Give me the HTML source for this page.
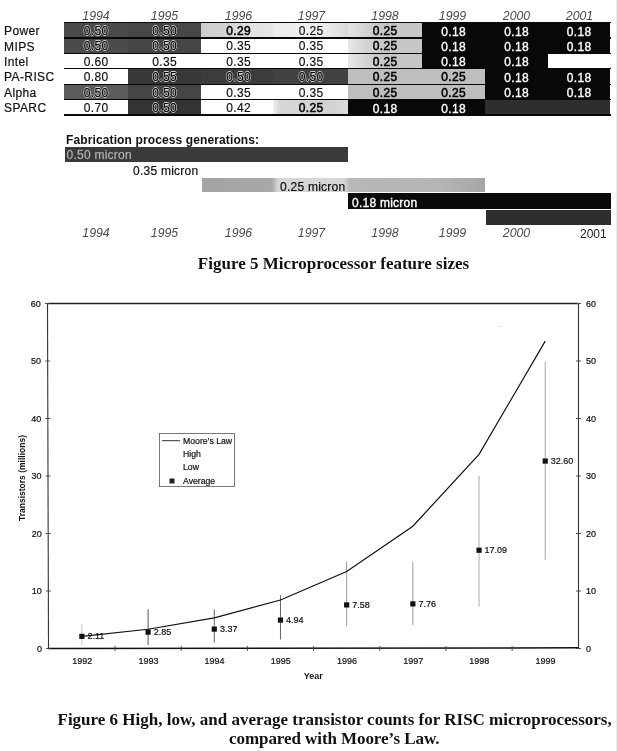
<!DOCTYPE html>
<html><head><meta charset="utf-8"><style>
html,body{margin:0;padding:0;background:#fff;}
body{width:617px;height:751px;position:relative;overflow:hidden;filter:grayscale(1);font-family:"Liberation Sans",sans-serif;color:#111;}
.a{position:absolute;white-space:nowrap;}
.yr{font-style:italic;font-size:12.3px;color:#4a4a4a;}
.lab{font-size:12px;color:#111;-webkit-text-stroke:0.2px #111;}
.c{position:absolute;}
.t{position:absolute;font-size:12px;text-align:center;line-height:15px;letter-spacing:0.35px;text-indent:0.35px;-webkit-text-stroke:0.15px #000;}
.dk{color:#000;text-shadow:0.8px 0 0 #ccc,-0.8px 0 0 #ccc,0 0.8px 0 #ccc,0 -0.8px 0 #ccc;}
.lt{-webkit-text-stroke:0.5px #000;color:#000;}
.wt{color:#fff;-webkit-text-stroke:0.35px #fff;}
.hl{position:absolute;height:1.3px;background:#080808;}
.cap{font-family:"Liberation Serif",serif;font-weight:bold;color:#111;}
.ax{font-size:9px;color:#111;-webkit-text-stroke:0.2px #111;}
</style></head><body>

<div class="a yr" style="left:76.0px;width:40px;text-align:center;top:8.8px;">1994</div>
<div class="a yr" style="left:144.5px;width:40px;text-align:center;top:8.8px;">1995</div>
<div class="a yr" style="left:218.5px;width:40px;text-align:center;top:8.8px;">1996</div>
<div class="a yr" style="left:291.5px;width:40px;text-align:center;top:8.8px;">1997</div>
<div class="a yr" style="left:365.0px;width:40px;text-align:center;top:8.8px;">1998</div>
<div class="a yr" style="left:432.5px;width:40px;text-align:center;top:8.8px;">1999</div>
<div class="a yr" style="left:496.5px;width:40px;text-align:center;top:8.8px;">2000</div>
<div class="a yr" style="left:559.5px;width:40px;text-align:center;top:8.8px;">2001</div>
<div class="a lab" style="left:4px;top:24.1px;letter-spacing:0.4px;">Power</div>
<div class="a lab" style="left:4px;top:39.5px;letter-spacing:0.4px;">MIPS</div>
<div class="a lab" style="left:4px;top:54.9px;letter-spacing:0.4px;">Intel</div>
<div class="a lab" style="left:4px;top:70.3px;letter-spacing:0.4px;">PA-RISC</div>
<div class="a lab" style="left:4px;top:85.8px;letter-spacing:0.4px;">Alpha</div>
<div class="a lab" style="left:4px;top:101.2px;letter-spacing:0.4px;">SPARC</div>
<div class="c" style="left:64px;top:23.15px;width:64px;height:14.10px;background:#4b4b4b;"></div>
<div class="t dk" style="left:64px;top:23.8px;width:64px;">0.50</div>
<div class="c" style="left:128px;top:23.15px;width:73px;height:14.10px;background:#474747;"></div>
<div class="t dk" style="left:128px;top:23.8px;width:73px;">0.50</div>
<div class="c" style="left:201px;top:23.15px;width:72px;height:14.10px;background:linear-gradient(to right,#cdcdcd 0px,#d3d3d3 25px,#e2e2e2 50px,#e6e6e6 72px);"></div>
<div class="t lt" style="left:202.5px;top:23.8px;width:72px;">0.29</div>
<div class="c" style="left:273px;top:23.15px;width:75px;height:14.10px;background:linear-gradient(to right,#ececec 0px,#f0f0f0 30px,#ebebeb 55px,#dadada 75px);"></div>
<div class="t" style="left:273.5px;top:23.8px;width:75px;">0.25</div>
<div class="c" style="left:348px;top:23.15px;width:74px;height:14.10px;background:linear-gradient(to right,#e4e4e4 0px,#d2d2d2 18px,#c6c6c6 36px);"></div>
<div class="t lt" style="left:348px;top:23.8px;width:74px;">0.25</div>
<div class="c" style="left:422px;top:23.15px;width:63px;height:14.10px;background:#080808;"></div>
<div class="t wt" style="left:422px;top:24.6px;width:63px;">0.18</div>
<div class="c" style="left:485px;top:23.15px;width:63px;height:14.10px;background:#080808;"></div>
<div class="t wt" style="left:485px;top:24.6px;width:63px;">0.18</div>
<div class="c" style="left:548px;top:23.15px;width:62px;height:14.10px;background:#080808;"></div>
<div class="t wt" style="left:548px;top:24.6px;width:62px;">0.18</div>
<div class="c" style="left:64px;top:38.55px;width:64px;height:14.10px;background:#4b4b4b;"></div>
<div class="t dk" style="left:64px;top:39.2px;width:64px;">0.50</div>
<div class="c" style="left:128px;top:38.55px;width:73px;height:14.10px;background:#464646;"></div>
<div class="t dk" style="left:128px;top:39.2px;width:73px;">0.50</div>
<div class="c" style="left:201px;top:38.55px;width:72px;height:14.10px;background:#ffffff;"></div>
<div class="t" style="left:202.5px;top:39.2px;width:72px;">0.35</div>
<div class="c" style="left:273px;top:38.55px;width:75px;height:14.10px;background:#ffffff;"></div>
<div class="t" style="left:273.5px;top:39.2px;width:75px;">0.35</div>
<div class="c" style="left:348px;top:38.55px;width:74px;height:14.10px;background:linear-gradient(to right,#e8e8e8 0px,#d4d4d4 18px,#c6c6c6 36px);"></div>
<div class="t lt" style="left:348px;top:39.2px;width:74px;">0.25</div>
<div class="c" style="left:422px;top:38.55px;width:63px;height:14.10px;background:#080808;"></div>
<div class="t wt" style="left:422px;top:40.0px;width:63px;">0.18</div>
<div class="c" style="left:485px;top:38.55px;width:63px;height:14.10px;background:#080808;"></div>
<div class="t wt" style="left:485px;top:40.0px;width:63px;">0.18</div>
<div class="c" style="left:548px;top:38.55px;width:62px;height:14.10px;background:#080808;"></div>
<div class="t wt" style="left:548px;top:40.0px;width:62px;">0.18</div>
<div class="c" style="left:64px;top:53.95px;width:64px;height:14.15px;background:#ffffff;"></div>
<div class="t" style="left:64px;top:54.6px;width:64px;">0.60</div>
<div class="c" style="left:128px;top:53.95px;width:73px;height:14.15px;background:#ffffff;"></div>
<div class="t" style="left:128px;top:54.6px;width:73px;">0.35</div>
<div class="c" style="left:201px;top:53.95px;width:72px;height:14.15px;background:#ffffff;"></div>
<div class="t" style="left:202.5px;top:54.6px;width:72px;">0.35</div>
<div class="c" style="left:273px;top:53.95px;width:75px;height:14.15px;background:#ffffff;"></div>
<div class="t" style="left:273.5px;top:54.6px;width:75px;">0.35</div>
<div class="c" style="left:348px;top:53.95px;width:74px;height:14.15px;background:linear-gradient(to right,#e8e8e8 0px,#d4d4d4 18px,#c6c6c6 36px);"></div>
<div class="t lt" style="left:348px;top:54.6px;width:74px;">0.25</div>
<div class="c" style="left:422px;top:53.95px;width:63px;height:14.15px;background:#080808;"></div>
<div class="t wt" style="left:422px;top:55.4px;width:63px;">0.18</div>
<div class="c" style="left:485px;top:53.95px;width:63px;height:14.15px;background:#080808;"></div>
<div class="t wt" style="left:485px;top:55.4px;width:63px;">0.18</div>
<div class="c" style="left:548px;top:53.95px;width:62px;height:14.15px;background:#ffffff;"></div>
<div class="c" style="left:64px;top:69.40px;width:64px;height:14.15px;background:#ffffff;"></div>
<div class="t" style="left:64px;top:70.0px;width:64px;">0.80</div>
<div class="c" style="left:128px;top:69.40px;width:73px;height:14.15px;background:#383838;"></div>
<div class="t dk" style="left:128px;top:70.0px;width:73px;">0.55</div>
<div class="c" style="left:201px;top:69.40px;width:72px;height:14.15px;background:#3c3c3c;"></div>
<div class="t dk" style="left:202.5px;top:70.0px;width:72px;">0.50</div>
<div class="c" style="left:273px;top:69.40px;width:75px;height:14.15px;background:#424242;"></div>
<div class="t dk" style="left:273.5px;top:70.0px;width:75px;">0.50</div>
<div class="c" style="left:348px;top:69.40px;width:74px;height:14.15px;background:#bebebe;"></div>
<div class="t lt" style="left:348px;top:70.0px;width:74px;">0.25</div>
<div class="c" style="left:422px;top:69.40px;width:63px;height:14.15px;background:#bebebe;"></div>
<div class="t lt" style="left:422px;top:70.0px;width:63px;">0.25</div>
<div class="c" style="left:485px;top:69.40px;width:63px;height:14.15px;background:#080808;"></div>
<div class="t wt" style="left:485px;top:70.8px;width:63px;">0.18</div>
<div class="c" style="left:548px;top:69.40px;width:62px;height:14.15px;background:#080808;"></div>
<div class="t wt" style="left:548px;top:70.8px;width:62px;">0.18</div>
<div class="c" style="left:64px;top:84.85px;width:64px;height:14.10px;background:#5c5c5c;"></div>
<div class="t dk" style="left:64px;top:85.5px;width:64px;">0.50</div>
<div class="c" style="left:128px;top:84.85px;width:73px;height:14.10px;background:#454545;"></div>
<div class="t dk" style="left:128px;top:85.5px;width:73px;">0.50</div>
<div class="c" style="left:201px;top:84.85px;width:72px;height:14.10px;background:#ffffff;"></div>
<div class="t" style="left:202.5px;top:85.5px;width:72px;">0.35</div>
<div class="c" style="left:273px;top:84.85px;width:75px;height:14.10px;background:#ffffff;"></div>
<div class="t" style="left:273.5px;top:85.5px;width:75px;">0.35</div>
<div class="c" style="left:348px;top:84.85px;width:74px;height:14.10px;background:#bebebe;"></div>
<div class="t lt" style="left:348px;top:85.5px;width:74px;">0.25</div>
<div class="c" style="left:422px;top:84.85px;width:63px;height:14.10px;background:#bebebe;"></div>
<div class="t lt" style="left:422px;top:85.5px;width:63px;">0.25</div>
<div class="c" style="left:485px;top:84.85px;width:63px;height:14.10px;background:#080808;"></div>
<div class="t wt" style="left:485px;top:86.3px;width:63px;">0.18</div>
<div class="c" style="left:548px;top:84.85px;width:62px;height:14.10px;background:#080808;"></div>
<div class="t wt" style="left:548px;top:86.3px;width:62px;">0.18</div>
<div class="c" style="left:64px;top:100.25px;width:64px;height:14.10px;background:#ffffff;"></div>
<div class="t" style="left:64px;top:100.9px;width:64px;">0.70</div>
<div class="c" style="left:128px;top:100.25px;width:73px;height:14.10px;background:#333333;"></div>
<div class="t dk" style="left:128px;top:100.9px;width:73px;">0.50</div>
<div class="c" style="left:201px;top:100.25px;width:72px;height:14.10px;background:#ffffff;"></div>
<div class="t" style="left:202.5px;top:100.9px;width:72px;">0.42</div>
<div class="c" style="left:273px;top:100.25px;width:75px;height:14.10px;background:linear-gradient(to right,#f0f0f0 0px,#d6d6d6 7px,#d2d2d2 60px,#dcdcdc 75px);"></div>
<div class="t lt" style="left:273.5px;top:100.9px;width:75px;">0.25</div>
<div class="c" style="left:348px;top:100.25px;width:74px;height:14.10px;background:#080808;"></div>
<div class="t wt" style="left:348px;top:101.7px;width:74px;">0.18</div>
<div class="c" style="left:422px;top:100.25px;width:63px;height:14.10px;background:#080808;"></div>
<div class="t wt" style="left:422px;top:101.7px;width:63px;">0.18</div>
<div class="c" style="left:485px;top:100.25px;width:63px;height:14.10px;background:#2e2e2e;"></div>
<div class="c" style="left:548px;top:100.25px;width:62px;height:14.10px;background:#2e2e2e;"></div>
<div class="hl" style="left:64px;width:546.5px;top:21.85px;"></div>
<div class="hl" style="left:64px;width:546.5px;top:37.25px;"></div>
<div class="hl" style="left:64px;width:546.5px;top:52.65px;"></div>
<div class="hl" style="left:64px;width:546.5px;top:68.10px;"></div>
<div class="hl" style="left:64px;width:546.5px;top:83.55px;"></div>
<div class="hl" style="left:64px;width:546.5px;top:98.95px;"></div>
<div class="hl" style="left:64px;width:546.5px;top:114.35px;"></div>
<div class="a" style="left:66px;top:133px;font-size:12px;font-weight:bold;letter-spacing:0.12px;">Fabrication process generations:</div>
<div class="c" style="left:64.5px;top:147px;width:283.5px;height:14.5px;background:#3a3a3a;"></div>
<div class="a" style="left:66.5px;top:148px;font-size:12px;line-height:15px;color:#c8c8c8;font-weight:normal;letter-spacing:0.25px;-webkit-text-stroke:0.3px #888;">0.50 micron</div>
<div class="a" style="left:133px;top:164px;font-size:12px;line-height:15px;color:#111;font-weight:normal;letter-spacing:0.25px;-webkit-text-stroke:0.2px #111;">0.35 micron</div>
<div class="c" style="left:201.5px;top:177.8px;width:283.0px;height:14.5px;background:linear-gradient(to right,#a4a4a4 0px,#a8a8a8 70px,#d6d6d6 76px,#d6d6d6 142px,#b8b8b8 148px,#b4b4b4 240px,#a6a6a6 283px);"></div>
<div class="a" style="left:280px;top:180.3px;font-size:12px;line-height:15px;color:#111;font-weight:normal;letter-spacing:0.25px;-webkit-text-stroke:0.2px #000;">0.25 micron</div>
<div class="c" style="left:348px;top:192.5px;width:263.0px;height:16.1px;background:#0a0a0a;"></div>
<div class="a" style="left:352px;top:196.3px;font-size:12px;line-height:15px;color:#fff;font-weight:normal;letter-spacing:0.25px;-webkit-text-stroke:0.35px #fff;">0.18 micron</div>
<div class="c" style="left:485.5px;top:210.3px;width:125.5px;height:14.7px;background:#2e2e2e;"></div>
<div class="a yr" style="left:76.0px;width:40px;text-align:center;top:226.1px;">1994</div>
<div class="a yr" style="left:144.5px;width:40px;text-align:center;top:226.1px;">1995</div>
<div class="a yr" style="left:218.5px;width:40px;text-align:center;top:226.1px;">1996</div>
<div class="a yr" style="left:291.5px;width:40px;text-align:center;top:226.1px;">1997</div>
<div class="a yr" style="left:365.0px;width:40px;text-align:center;top:226.1px;">1998</div>
<div class="a yr" style="left:432.5px;width:40px;text-align:center;top:226.1px;">1999</div>
<div class="a yr" style="left:496.5px;width:40px;text-align:center;top:226.1px;">2000</div>
<div class="a" style="left:580px;top:226.5px;font-size:12px;color:#222;">2001</div>
<div class="a cap" style="left:0;width:617px;text-align:center;top:254px;font-size:17px;padding-left:50px;box-sizing:border-box;">Figure 5 Microprocessor feature sizes</div>
<svg class="a" style="left:0;top:0;" width="617" height="751" viewBox="0 0 617 751">
<line x1="47.5" y1="303.5" x2="578.5" y2="303.5" stroke="#222" stroke-width="1.3"/>
<line x1="47.5" y1="303.5" x2="48.5" y2="648.5" stroke="#333" stroke-width="1.1"/>
<line x1="578.5" y1="303.5" x2="578.5" y2="648.5" stroke="#333" stroke-width="1.1"/>
<line x1="48" y1="648.4" x2="578.5" y2="647.8" stroke="#111" stroke-width="1.5"/>
<line x1="46.00" y1="648.50" x2="51.00" y2="648.50" stroke="#444" stroke-width="0.9"/>
<line x1="576.0" y1="648.50" x2="581.0" y2="648.50" stroke="#444" stroke-width="0.9"/>
<line x1="45.83" y1="591.00" x2="50.83" y2="591.00" stroke="#444" stroke-width="0.9"/>
<line x1="576.0" y1="591.00" x2="581.0" y2="591.00" stroke="#444" stroke-width="0.9"/>
<line x1="45.67" y1="533.50" x2="50.67" y2="533.50" stroke="#444" stroke-width="0.9"/>
<line x1="576.0" y1="533.50" x2="581.0" y2="533.50" stroke="#444" stroke-width="0.9"/>
<line x1="45.50" y1="476.00" x2="50.50" y2="476.00" stroke="#444" stroke-width="0.9"/>
<line x1="576.0" y1="476.00" x2="581.0" y2="476.00" stroke="#444" stroke-width="0.9"/>
<line x1="45.33" y1="418.50" x2="50.33" y2="418.50" stroke="#444" stroke-width="0.9"/>
<line x1="576.0" y1="418.50" x2="581.0" y2="418.50" stroke="#444" stroke-width="0.9"/>
<line x1="45.17" y1="361.00" x2="50.17" y2="361.00" stroke="#444" stroke-width="0.9"/>
<line x1="576.0" y1="361.00" x2="581.0" y2="361.00" stroke="#444" stroke-width="0.9"/>
<line x1="45.00" y1="303.50" x2="50.00" y2="303.50" stroke="#444" stroke-width="0.9"/>
<line x1="576.0" y1="303.50" x2="581.0" y2="303.50" stroke="#444" stroke-width="0.9"/>
<line x1="115.00" y1="646.0" x2="115.00" y2="651.0" stroke="#444" stroke-width="0.9"/>
<line x1="181.19" y1="646.0" x2="181.19" y2="651.0" stroke="#444" stroke-width="0.9"/>
<line x1="247.38" y1="646.0" x2="247.38" y2="651.0" stroke="#444" stroke-width="0.9"/>
<line x1="313.56" y1="646.0" x2="313.56" y2="651.0" stroke="#444" stroke-width="0.9"/>
<line x1="379.75" y1="646.0" x2="379.75" y2="651.0" stroke="#444" stroke-width="0.9"/>
<line x1="445.94" y1="646.0" x2="445.94" y2="651.0" stroke="#444" stroke-width="0.9"/>
<line x1="512.13" y1="646.0" x2="512.13" y2="651.0" stroke="#444" stroke-width="0.9"/>
<line x1="81.90" y1="624.00" x2="81.90" y2="645.05" stroke="#c4c4c4" stroke-width="1"/>
<line x1="148.09" y1="609.40" x2="148.09" y2="645.05" stroke="#555" stroke-width="1"/>
<line x1="214.28" y1="609.40" x2="214.28" y2="642.75" stroke="#666" stroke-width="1"/>
<line x1="280.47" y1="595.31" x2="280.47" y2="639.59" stroke="#666" stroke-width="1"/>
<line x1="346.66" y1="561.67" x2="346.66" y2="626.08" stroke="#999" stroke-width="1"/>
<line x1="412.85" y1="561.67" x2="412.85" y2="624.92" stroke="#999" stroke-width="1"/>
<line x1="479.04" y1="476.00" x2="479.04" y2="606.52" stroke="#aaa" stroke-width="1"/>
<line x1="545.23" y1="361.57" x2="545.23" y2="559.95" stroke="#aaa" stroke-width="1"/>
<polyline points="81.90,636.37 148.09,629.24 214.28,617.91 280.47,599.97 346.66,571.45 412.85,526.20 479.04,454.38 545.23,341.16" fill="none" stroke="#111" stroke-width="1.2"/>
<rect x="79.30" y="633.77" width="5.2" height="5.2" fill="#111"/>
<rect x="145.49" y="629.51" width="5.2" height="5.2" fill="#111"/>
<rect x="211.68" y="626.52" width="5.2" height="5.2" fill="#111"/>
<rect x="277.87" y="617.50" width="5.2" height="5.2" fill="#111"/>
<rect x="344.06" y="602.31" width="5.2" height="5.2" fill="#111"/>
<rect x="410.25" y="601.28" width="5.2" height="5.2" fill="#111"/>
<rect x="476.44" y="547.63" width="5.2" height="5.2" fill="#111"/>
<rect x="542.63" y="458.45" width="5.2" height="5.2" fill="#111"/>
<rect x="159.5" y="433.5" width="75" height="53" fill="#fff" stroke="#777" stroke-width="1"/>
<line x1="162" y1="440.7" x2="180" y2="440.7" stroke="#333" stroke-width="1"/>
<rect x="169.5" y="478.5" width="5" height="5" fill="#222"/>
</svg>
<div class="a ax" style="left:87.5px;top:631.4px;">2.11</div>
<div class="a ax" style="left:153.7px;top:627.1px;">2.85</div>
<div class="a ax" style="left:219.9px;top:624.1px;">3.37</div>
<div class="a ax" style="left:286.1px;top:615.1px;">4.94</div>
<div class="a ax" style="left:352.3px;top:599.9px;">7.58</div>
<div class="a ax" style="left:418.5px;top:598.9px;">7.76</div>
<div class="a ax" style="left:484.6px;top:545.2px;">17.09</div>
<div class="a ax" style="left:550.8px;top:456.0px;">32.60</div>
<div class="a ax" style="left:62.2px;width:40px;text-align:center;top:655.9px;">1992</div>
<div class="a ax" style="left:128.4px;width:40px;text-align:center;top:655.9px;">1993</div>
<div class="a ax" style="left:194.6px;width:40px;text-align:center;top:655.9px;">1994</div>
<div class="a ax" style="left:260.8px;width:40px;text-align:center;top:655.9px;">1995</div>
<div class="a ax" style="left:327.0px;width:40px;text-align:center;top:655.9px;">1996</div>
<div class="a ax" style="left:393.2px;width:40px;text-align:center;top:655.9px;">1997</div>
<div class="a ax" style="left:459.3px;width:40px;text-align:center;top:655.9px;">1998</div>
<div class="a ax" style="left:525.5px;width:40px;text-align:center;top:655.9px;">1999</div>
<div class="a ax" style="left:12.10px;width:30px;text-align:right;top:643.8px;">0</div>
<div class="a ax" style="left:586px;top:643.8px;">0</div>
<div class="a ax" style="left:11.88px;width:30px;text-align:right;top:586.3px;">10</div>
<div class="a ax" style="left:586px;top:586.3px;">10</div>
<div class="a ax" style="left:11.67px;width:30px;text-align:right;top:528.8px;">20</div>
<div class="a ax" style="left:586px;top:528.8px;">20</div>
<div class="a ax" style="left:11.45px;width:30px;text-align:right;top:471.3px;">30</div>
<div class="a ax" style="left:586px;top:471.3px;">30</div>
<div class="a ax" style="left:11.23px;width:30px;text-align:right;top:413.8px;">40</div>
<div class="a ax" style="left:586px;top:413.8px;">40</div>
<div class="a ax" style="left:11.02px;width:30px;text-align:right;top:356.3px;">50</div>
<div class="a ax" style="left:586px;top:356.3px;">50</div>
<div class="a ax" style="left:10.80px;width:30px;text-align:right;top:298.8px;">60</div>
<div class="a ax" style="left:586px;top:298.8px;">60</div>
<div class="a" style="left:183px;top:436.0px;font-size:8.7px;-webkit-text-stroke:0.2px #111;">Moore’s Law</div>
<div class="a" style="left:183px;top:449.2px;font-size:8.7px;-webkit-text-stroke:0.2px #111;">High</div>
<div class="a" style="left:183px;top:462.4px;font-size:8.7px;-webkit-text-stroke:0.2px #111;">Low</div>
<div class="a" style="left:183px;top:475.6px;font-size:8.7px;-webkit-text-stroke:0.2px #111;">Average</div>
<div class="a" style="left:22px;top:477.7px;font-size:8.5px;font-weight:bold;transform:translate(-50%,-50%) rotate(-90deg);">Transistors (millions)</div>
<div class="a" style="left:303.8px;top:671px;font-size:9px;font-weight:bold;">Year</div>
<div class="a cap" style="left:57.5px;top:710px;font-size:17px;">Figure 6 High, low, and average transistor counts for RISC microprocessors,</div>
<div class="a cap" style="left:229px;top:728.6px;font-size:17px;letter-spacing:-0.07px;">compared with Moore’s Law.</div>
<div class="c" style="left:498.5px;top:325.5px;width:1.5px;height:1.5px;background:#bbb;"></div>
<div class="c" style="left:616px;top:0;width:1px;height:751px;background:#ececec;"></div>
</body></html>
